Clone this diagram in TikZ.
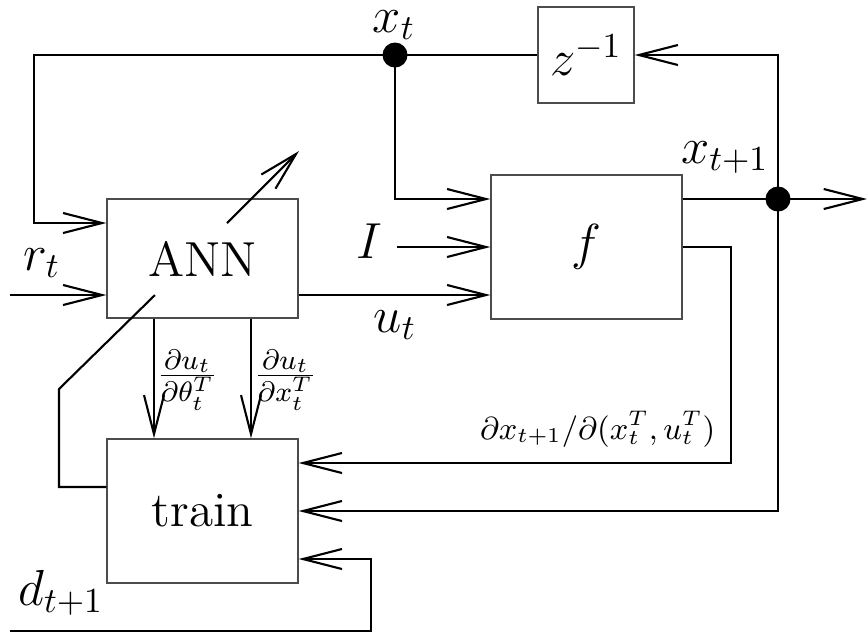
\documentclass[tikz,border=0pt]{standalone}
\usetikzlibrary{arrows.meta}
\begin{document}
\begin{tikzpicture}[x=0.01cm, y=-0.01cm,
  blk/.style={draw=black!70, line width=0.35pt, minimum width=1.91cm, font=\fontsize{14}{17}\selectfont},
  lbl/.style={inner sep=0pt, font=\fontsize{14}{17}\selectfont},
  wire/.style={semithick},
  arr/.style={semithick, -{Straight Barb[length=0.39cm, width=0.2cm]}},
  dot/.style={circle, fill, inner sep=0pt, minimum size=0.25cm}]
\useasboundingbox (0,0) rectangle (867,632);
% blocks
\node[blk, minimum height=1.19cm] (ann) at (202.5,258.5) {ANN};
\node[blk, minimum height=1.44cm] (f) at (586.5,247) {$f$};
\node[blk, minimum height=1.44cm] (train) at (202.5,511) {train};
\node[blk, minimum width=0.96cm, minimum height=0.96cm] (delay) at (586,55) {$z^{-1}$};
% branch points
\node[dot] (xt) at (395,55) {};
\node[dot] (xn) at (778,199) {};
\coordinate (rin) at (10,295);
\coordinate (din) at (10,631);
\coordinate (out) at (867,199);
% labels
\node[lbl, anchor=base] (lxt) at (394,32) {$x_t$};
\node[lbl, anchor=base] (lxn) at (725,163) {$x_{t+1}$};
\node[lbl, anchor=base] (lrt) at (42,270) {$r_t$};
\node[lbl, anchor=base] (lut) at (395,332) {$u_t$};
\node[lbl, anchor=base] (lin) at (369,258) {$I$};
\node[lbl, anchor=base] (ldt) at (61,605) {$d_{t+1}$};
\node[anchor=south east, inner sep=0pt, font=\small] (ljac) at (716,448) {$\partial x_{t+1}/\partial(x_t^T,u_t^T)$};
\node[anchor=west, inner sep=0pt, font=\large] (lth) at (156,380) {$\frac{\partial u_t}{\partial\theta_t^T}$};
\node[anchor=west, inner sep=0pt, font=\large] (lxx) at (253,380) {$\frac{\partial u_t}{\partial x_t^T}$};
% signal lines
\draw[arr] (delay.west) -- (xt.center) -- (34,55) |- (ann.west |- 0,223);
\draw[arr] (xt.center) |- (f.west |- 0,199);
\draw[arr] ([xshift=0.14cm]lin.east |- f.west) -- (f.west);
\draw[arr] (ann.east |- 0,295) -- (f.west |- 0,295);
\draw[arr] (rin) -- (ann.west |- rin);
\draw[wire] (f.east |- xn) -- (xn.center);
\draw[arr] (xn.center) -- (out);
\draw[arr] (xn.center) |- (delay.east);
\draw[arr] (xn.center) |- (train.east);
\draw[arr] (f.east) -| (731,463) -- (train.east |- 0,463);
\draw[arr] (din) -| (371,559) -- (train.east |- 0,559);
\foreach \x in {154,251} \draw[arr] (ann.south -| \x,0) -- (train.north -| \x,0);
% learning arrow through ANN
\draw[wire] (train.west |- 0,487) -- (59,487) -- (59,389) -- (155,295);
\draw[arr] (227,223) -- (299,151);
\end{tikzpicture}
\end{document}
